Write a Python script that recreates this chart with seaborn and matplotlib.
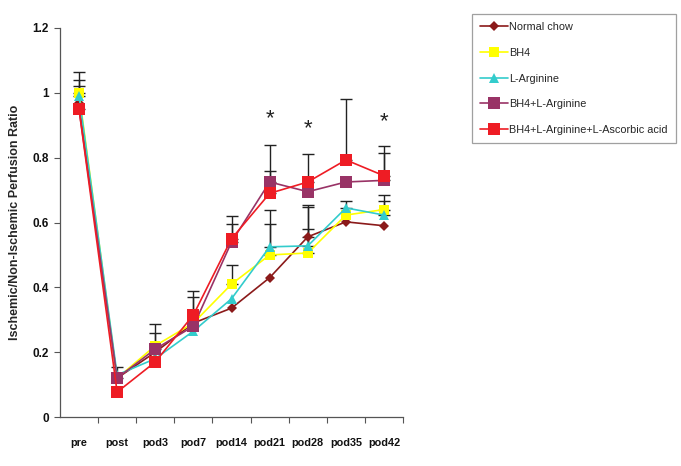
import numpy as np
import pandas as pd
import matplotlib
matplotlib.use("Agg")
import matplotlib.pyplot as plt
import seaborn as sns
from matplotlib.ticker import FixedLocator, NullFormatter

categories = ["pre", "post", "pod3", "pod7", "pod14", "pod21", "pod28", "pod35", "pod42"]

normal_chow = [0.97, 0.12, 0.20, 0.29, 0.336, 0.43, 0.556, 0.602, 0.59]
bh4 = [1.00, 0.12, 0.22, 0.29, 0.41, 0.50, 0.506, 0.623, 0.64]
l_arginine = [0.99, 0.13, 0.18, 0.265, 0.365, 0.525, 0.528, 0.645, 0.623]
bh4_larg = [0.95, 0.12, 0.21, 0.28, 0.54, 0.725, 0.695, 0.725, 0.73]
bh4_larg_asc = [0.95, 0.077, 0.17, 0.315, 0.55, 0.69, 0.725, 0.793, 0.744]

# upper error (SD) values; 0 where no bar is visible
err_normal = [0.0, 0.0, 0.0, 0.0, 0.0, 0.0, 0.024, 0.0, 0.0]
err_bh4 = [0.065, 0.0, 0.067, 0.0, 0.06, 0.095, 0.142, 0.0, 0.045]
err_larg = [0.05, 0.0, 0.0, 0.0, 0.0, 0.115, 0.127, 0.022, 0.042]
err_bh4_larg = [0.07, 0.035, 0.05, 0.09, 0.055, 0.115, 0.0, 0.0, 0.085]
err_bh4_larg_asc = [0.0, 0.0, 0.0, 0.075, 0.07, 0.07, 0.085, 0.187, 0.091]

series_names = ["Normal chow", "BH4", "L-Arginine", "BH4+L-Arginine",
                "BH4+L-Arginine+L-Ascorbic acid"]
star_positions = ["pod21", "pod28", "pod42"]
star_heights = [0.92, 0.89, 0.91]

values = [normal_chow, bh4, l_arginine, bh4_larg, bh4_larg_asc]
errors = [err_normal, err_bh4, err_larg, err_bh4_larg, err_bh4_larg_asc]
colors = ["#8B1A1A", "#FFFF00", "#33CCCC", "#993366", "#EE1C24"]
markers = ["D", "s", "^", "s", "s"]
msizes = [5, 6.5, 6.5, 8, 9]

sns.set_theme(style="white")
plt.rcParams["font.family"] = ["Liberation Sans", "DejaVu Sans"]

fig = plt.figure(figsize=(6.81, 4.66), dpi=100)
ax = fig.add_axes([0.088, 0.105, 0.504, 0.835])

xpos = np.arange(len(categories))

# error bars (upper only)
for vals, errs in zip(values, errors):
    v = np.array(vals)
    e = np.array(errs)
    m = e > 0
    ax.errorbar(xpos[m], v[m], yerr=[np.zeros(m.sum()), e[m]], fmt="none",
                ecolor="#222222", elinewidth=1.0, capsize=4, capthick=1.0, zorder=2)

for name, vals, c, mk, ms in zip(series_names, values, colors, markers, msizes):
    df = pd.DataFrame({"x": xpos, "y": vals})
    sns.lineplot(data=df, x="x", y="y", ax=ax, color=c, marker=mk, markersize=ms,
                 markeredgewidth=0, linewidth=1.2, label=name, zorder=3)

for p, h in zip(star_positions, star_heights):
    ax.text(categories.index(p), h, "*", ha="center", va="center",
            fontsize=16, color="#222222")

ax.set_xlim(-0.5, len(categories) - 0.5)
ax.set_ylim(0, 1.2)
ax.set_yticks([0, 0.2, 0.4, 0.6, 0.8, 1.0, 1.2])
ax.set_yticklabels(["0", "0.2", "0.4", "0.6", "0.8", "1", "1.2"],
                   fontsize=8.5, fontweight="bold")
ax.set_xticks(xpos)
ax.set_xticklabels(categories, fontsize=7.8, fontweight="bold")
ax.xaxis.set_minor_locator(FixedLocator(np.arange(0.5, len(categories) - 0.4, 1.0)))
ax.xaxis.set_minor_formatter(NullFormatter())
ax.tick_params(axis="x", which="major", length=0, pad=15, colors="#111111")
ax.tick_params(axis="x", which="minor", length=4, width=0.8, color="#555555", bottom=True)
ax.tick_params(axis="y", which="major", length=4, width=0.8, color="#555555",
               left=True, colors="#111111", pad=4)
ax.set_xlabel("")
ax.set_ylabel("Ischemic/Non-Ischemic Perfusion Ratio", fontsize=9,
              fontweight="bold", labelpad=8)

for s in ["top", "right"]:
    ax.spines[s].set_visible(False)
for s in ["left", "bottom"]:
    ax.spines[s].set_color("#555555")
    ax.spines[s].set_linewidth(0.9)

leg = ax.legend(loc="upper left", bbox_to_anchor=(472 / 681, 1 - 14 / 466),
                bbox_transform=fig.transFigure, frameon=True, fancybox=False,
                fontsize=7.8, labelspacing=1.45, handlelength=2.6,
                handletextpad=0.1, borderpad=0.75, borderaxespad=0)
leg.get_frame().set_edgecolor("#888888")
leg.get_frame().set_linewidth(0.9)

fig.savefig("out.png", dpi=100, facecolor="white")
